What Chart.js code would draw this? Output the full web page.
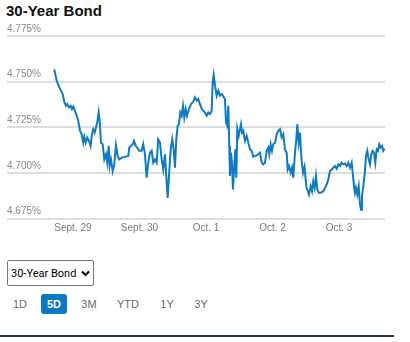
<!DOCTYPE html>
<html>
<head>
<meta charset="utf-8">
<script src="https://cdn.jsdelivr.net/npm/chart.js@4"></script>
<style>
  body { margin: 0; background: #fff; width: 410px; height: 342px; overflow: hidden; position: relative; font-family: "Liberation Sans", Arial, sans-serif; }
  #title { position: absolute; left: 6px; top: 1px; font-size: 15px; line-height: 20px; font-weight: bold; color: #111; }
  #chart { position: absolute; left: 0; top: 0; }
  #bond {
    position: absolute; left: 7px; top: 260px; width: 87px; height: 26px; box-sizing: border-box;
    padding: 0 0 0 3px; font: 11px Roboto, sans-serif; color: #000;
    border: 1px solid #767676; border-radius: 2px; background-color: #fff;
    appearance: none; -webkit-appearance: none;
    background-image: url("data:image/svg+xml,%3Csvg xmlns='http://www.w3.org/2000/svg' width='9' height='7'%3E%3Cpath d='M1 1.5l3.5 3.5 3.5-3.5' fill='none' stroke='%23000' stroke-width='2'/%3E%3C/svg%3E");
    background-repeat: no-repeat; background-position: right 3px center;
  }
  .range { position: absolute; top: 294px; height: 20px; width: 30px; line-height: 20px; text-align: center; font-size: 11px; color: #5f6b73; }
  .range.active { width: 26px; background: #0b78bf; color: #fff; font-weight: bold; border-radius: 3px; }
  #rule { position: absolute; left: 0; top: 335px; width: 394px; height: 2px; background: #1c3940; }
</style>
</head>
<body>
<div id="title">30-Year Bond</div>
<canvas id="chart" width="410" height="242"></canvas>
<select id="bond"><option>30-Year Bond</option></select>
<div id="ranges"></div>
<div id="rule"></div>
<script>
// hours since midnight of the first labelled day
const hours = [
  -6.75, -5.88, -4.94, -4.33, -3.72, -3.14, -2.53, -2.06, -1.44, -0.83,
  -0.36, 0.11, 0.72, 1.34, 1.91, 2.53, 3.14, 3.72, 4.08, 4.58,
  5.16, 5.77, 6.39, 6.86, 7.33, 7.83, 8.30, 8.77, 9.28, 9.74,
  10.11, 10.72, 11.30, 11.91, 12.38, 12.88, 13.25, 13.71, 14.33, 14.91,
  15.52, 16.13, 16.71, 17.58, 18.77, 19.96, 20.32, 20.93, 21.55, 22.01,
  22.63, 23.21, 23.93, 24.79, 25.37, 25.98, 26.60, 27.18, 27.79, 28.40,
  28.98, 29.59, 30.21, 30.78, 31.40, 32.01, 32.59, 33.20, 33.82, 34.18,
  34.65, 35.26, 35.84, 36.34, 36.81, 37.28, 37.79, 38.26, 38.72, 39.23,
  39.70, 40.17, 40.67, 41.14, 41.86, 42.59, 43.31, 44.03, 44.64, 45.22,
  45.83, 46.45, 47.03, 47.64, 48.25, 48.83, 49.44, 50.06, 50.42, 50.78,
  51.25, 51.86, 52.44, 53.05, 53.67, 54.24, 54.86, 55.22, 55.69, 56.05,
  56.41, 56.66, 57.02, 57.38, 57.74, 58.21, 58.57, 58.94, 59.30, 59.80,
  60.27, 60.63, 60.99, 61.46, 62.07, 62.69, 63.27, 63.88, 64.49, 65.07,
  66.30, 67.49, 68.10, 68.68, 69.29, 69.91, 70.48, 70.84, 71.35, 71.82,
  72.29, 72.90, 73.51, 74.09, 74.71, 75.32, 75.90, 76.51, 77.12, 77.49,
  77.95, 78.57, 79.04, 79.51, 80.12, 80.59, 80.95, 81.46, 81.92, 82.47,
  83.01, 83.55, 83.91, 84.27, 84.81, 85.17, 85.79, 86.26, 86.72, 87.23,
  87.70, 88.17, 88.67, 89.39, 90.33, 90.95, 91.56, 92.14, 92.75, 93.37,
  93.94, 94.56, 95.17, 95.75, 96.36, 96.97, 97.55, 98.16, 98.78, 99.36,
  99.97, 100.58, 100.94, 101.41, 101.77, 102.13, 102.60, 103.11, 103.58, 103.94,
  104.30, 104.77, 105.27, 105.74, 106.21, 106.72, 107.19, 107.66, 108.16, 108.63,
  109.10, 109.61, 110.07, 110.54, 111.05, 111.52, 111.99, 112.49
];

// yield in percent
const yields = [
  4.7567, 4.7506, 4.7469, 4.7451, 4.7432, 4.7390, 4.7368, 4.7377, 4.7359, 4.7368,
  4.7350, 4.7363, 4.7341, 4.7313, 4.7286, 4.7231, 4.7212, 4.7166, 4.7199, 4.7166,
  4.7194, 4.7176, 4.7148, 4.7212, 4.7240, 4.7221, 4.7249, 4.7276, 4.7331, 4.7267,
  4.7166, 4.7157, 4.7074, 4.7102, 4.7056, 4.7148, 4.7038, 4.7074, 4.7010, 4.7047,
  4.7151, 4.7093, 4.7074, 4.7084, 4.7088, 4.7093, 4.7139, 4.7148, 4.7157, 4.7176,
  4.7148, 4.7139, 4.7121, 4.7121, 4.7157, 4.7102, 4.6974, 4.7056, 4.7111, 4.7121,
  4.7056, 4.7074, 4.7056, 4.7184, 4.7166, 4.7074, 4.7019, 4.7102, 4.6946, 4.6863,
  4.6983, 4.7129, 4.7184, 4.7129, 4.7029, 4.7184, 4.7258, 4.7267, 4.7331, 4.7313,
  4.7368, 4.7304, 4.7350, 4.7313, 4.7350, 4.7377, 4.7387, 4.7414, 4.7396, 4.7405,
  4.7377, 4.7350, 4.7341, 4.7331, 4.7313, 4.7331, 4.7322, 4.7341, 4.7497, 4.7537,
  4.7479, 4.7423, 4.7451, 4.7423, 4.7432, 4.7420, 4.7405, 4.7276, 4.7258, 4.7368,
  4.7148, 4.6983, 4.7111, 4.7056, 4.6909, 4.7038, 4.7129, 4.6974, 4.7240, 4.7203,
  4.7240, 4.7267, 4.7221, 4.7231, 4.7176, 4.7203, 4.7166, 4.7129, 4.7121, 4.7089,
  4.7096, 4.7111, 4.7056, 4.7047, 4.7056, 4.7121, 4.7139, 4.7102, 4.7157, 4.7121,
  4.7157, 4.7166, 4.7212, 4.7231, 4.7240, 4.7194, 4.7212, 4.7129, 4.7111, 4.7019,
  4.7038, 4.7001, 4.7029, 4.6974, 4.7111, 4.7184, 4.7267, 4.7166, 4.7221, 4.7074,
  4.7001, 4.7034, 4.6974, 4.6918, 4.6900, 4.6882, 4.6928, 4.6900, 4.6955, 4.6918,
  4.6983, 4.6909, 4.6891, 4.6891, 4.6900, 4.6918, 4.6937, 4.6964, 4.7010, 4.7019,
  4.7029, 4.7038, 4.7023, 4.7047, 4.7038, 4.7056, 4.7047, 4.7052, 4.7038, 4.7056,
  4.7029, 4.7056, 4.7001, 4.6928, 4.6891, 4.6918, 4.6882, 4.6928, 4.6826, 4.6799,
  4.6873, 4.6928, 4.6992, 4.7093, 4.7121, 4.7074, 4.7047, 4.7102, 4.7121, 4.7111,
  4.7056, 4.7129, 4.7121, 4.7157, 4.7139, 4.7148, 4.7121, 4.7133
];

const dayTicks = [0, 24, 48, 72, 96];
const dayLabels = ["Sept. 29", "Sept. 30", "Oct. 1", "Oct. 2", "Oct. 3"];
const yieldTicks = [4.675, 4.700, 4.725, 4.750, 4.775];
const ranges = ["1D", "5D", "3M", "YTD", "1Y", "3Y"];
const activeRange = "5D";

// range buttons under the dropdown
const rangeCenters = [20, 54, 89, 128, 167, 201];
const rangeBox = document.getElementById("ranges");
ranges.forEach((r, i) => {
  const el = document.createElement("div");
  el.className = "range" + (r === activeRange ? " active" : "");
  el.textContent = r;
  const w = r === activeRange ? 26 : 30;
  el.style.left = (rangeCenters[i] - w / 2) + "px";
  rangeBox.appendChild(el);
});

const tickFont = { family: "'Liberation Sans', Arial, sans-serif", size: 10 };

new Chart(document.getElementById("chart"), {
  type: "line",
  data: {
    datasets: [{
      data: hours.map((h, i) => ({ x: h, y: yields[i] })),
      borderColor: "#0f7ac0",
      borderWidth: 2,
      pointRadius: 0,
      tension: 0,
      fill: false
    }]
  },
  options: {
    responsive: false,
    animation: false,
    devicePixelRatio: 1,
    layout: { padding: { left: 7, right: 25, top: 36, bottom: 3.4 } },
    plugins: { legend: { display: false }, tooltip: { enabled: false } },
    scales: {
      x: {
        type: "linear",
        min: -23.8,
        max: 112.6,
        grid: { display: false, drawTicks: false },
        border: { display: false },
        afterBuildTicks: axis => { axis.ticks = dayTicks.map(v => ({ value: v })); },
        ticks: {
          autoSkip: false,
          maxRotation: 0,
          padding: 4,
          color: "#7a7a7a",
          font: tickFont,
          callback: (v) => dayLabels[dayTicks.indexOf(v)]
        }
      },
      y: {
        min: 4.675,
        max: 4.775,
        grid: { color: "#dedede", lineWidth: 2, drawTicks: false },
        border: { display: false },
        afterBuildTicks: axis => { axis.ticks = yieldTicks.map(v => ({ value: v })); },
        ticks: {
          mirror: true,
          padding: 0,
          labelOffset: -7,
          color: "#8a8a8a",
          font: tickFont,
          callback: v => v.toFixed(3) + "%"
        }
      }
    }
  }
});
</script>
</body>
</html>
